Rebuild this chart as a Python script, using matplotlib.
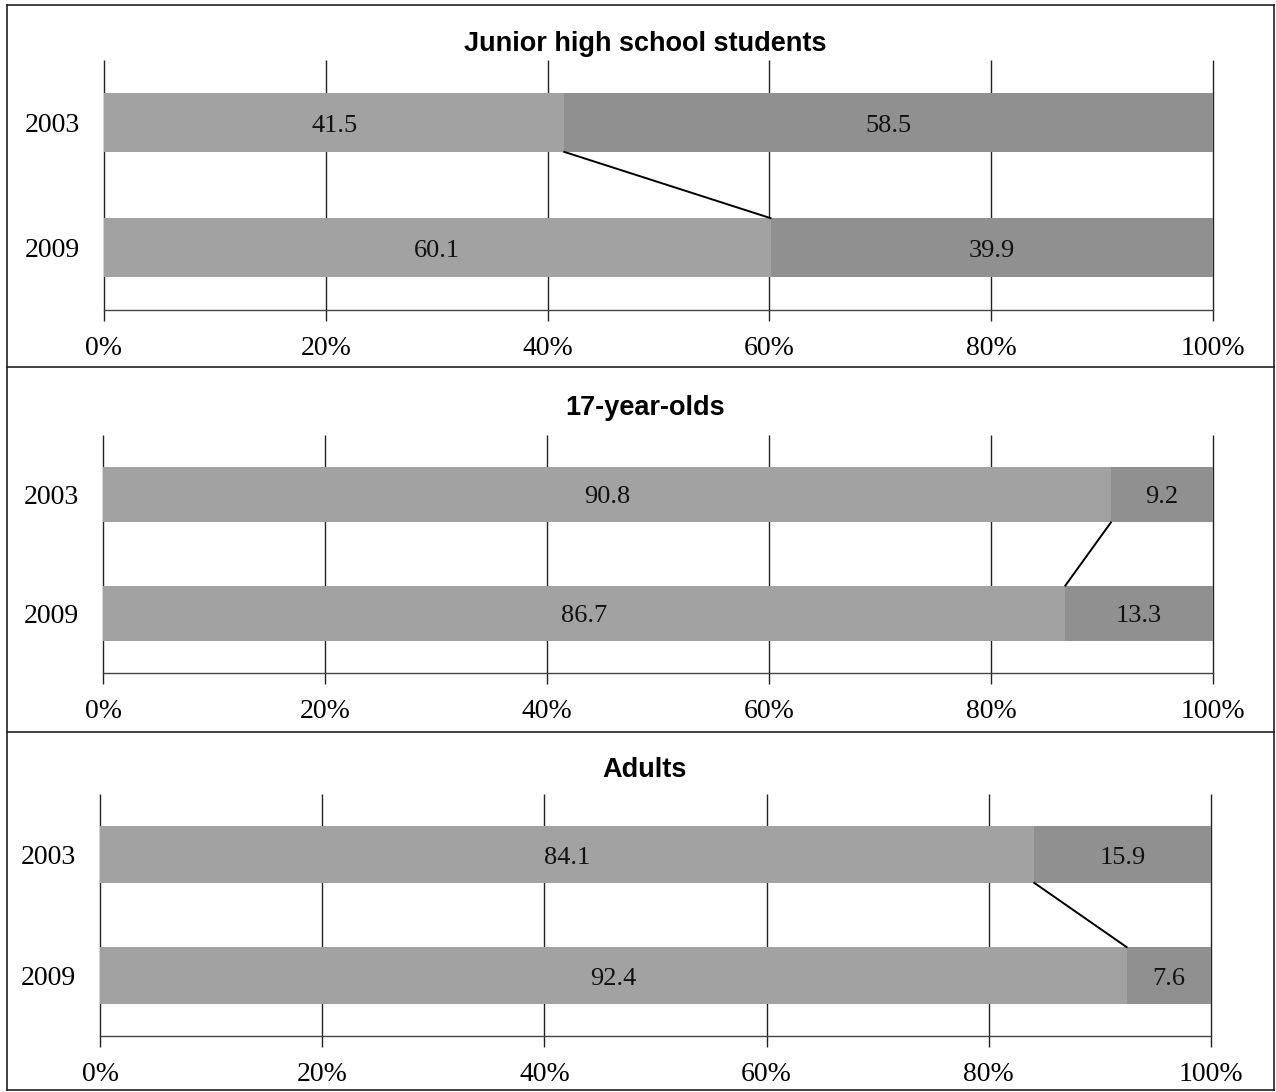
import matplotlib
matplotlib.use("Agg")
import matplotlib.pyplot as plt
from matplotlib.lines import Line2D

# Data: share (%) in each group, first and second segment of each stacked bar
groups = ["Junior high school students", "17-year-olds", "Adults"]
years = ["2003", "2009"]
first_2003 = [41.5, 90.8, 84.1]
second_2003 = [58.5, 9.2, 15.9]
first_2009 = [60.1, 86.7, 92.4]
second_2009 = [39.9, 13.3, 7.6]
tick_values = [0, 20, 40, 60, 80, 100]
tick_labels = ["0%", "20%", "40%", "60%", "80%", "100%"]

W, H = 1276, 1092
DPI = 100
fig = plt.figure(figsize=(W / DPI, H / DPI), dpi=DPI)
fig.patch.set_facecolor("white")

SERIF = ["Liberation Serif", "DejaVu Serif"]
SANS = ["Liberation Sans", "DejaVu Sans"]
LIGHT = "#a2a2a2"
DARK = "#909090"


def fx(x):
    return x / W


def fy(y):
    return 1 - y / H


# panel layout in pixels: (left, right, top, bottom of plot area, title y)
panels = [
    (104, 1213, 60, 310, 44),
    (103, 1213, 435, 673, 408),
    (100, 1211, 794, 1036, 770),
]

# outer frame and separators
frame = [((7, 1274), (5, 5)), ((7, 1274), (1090, 1090)), ((7, 7), (5, 1090)),
         ((1274, 1274), (5, 1090)), ((7, 1274), (367, 367)), ((7, 1274), (732, 732))]
for xs, ys in frame:
    fig.add_artist(Line2D([fx(xs[0]), fx(xs[1])], [fy(ys[0]), fy(ys[1])],
                          transform=fig.transFigure, color="#222222", lw=1.2))

bar_h = 0.47
for i, (l, r, t, b, ty) in enumerate(panels):
    ax = fig.add_axes([fx(l), fy(b), fx(r) - fx(l), (b - t) / H])
    ax.set_xlim(0, 100)
    ax.set_ylim(-0.5, 1.5)
    for s in ["top", "left", "right"]:
        ax.spines[s].set_visible(False)
    ax.spines["bottom"].set_color("#444444")
    ax.spines["bottom"].set_linewidth(1.0)

    # vertical grid lines continuing below the axis as tick marks
    ax.vlines(tick_values, -0.5, 1.5, colors="#222222", lw=1.0, zorder=1, clip_on=False)

    ypos = [1, 0]
    firsts = [first_2003[i], first_2009[i]]
    seconds = [second_2003[i], second_2009[i]]
    for y, f, s in zip(ypos, firsts, seconds):
        ax.barh(y, f, height=bar_h, left=0, color=LIGHT, edgecolor="none", zorder=2)
        ax.barh(y, s, height=bar_h, left=f, color=DARK, edgecolor="none", zorder=2)
        ax.text(f / 2, y - 0.025, f"{f:.1f}", ha="center", va="center",
                fontsize=19, family=SERIF, color="#111111", zorder=3)
        ax.text(f + s / 2, y - 0.025, f"{s:.1f}", ha="center", va="center",
                fontsize=19, family=SERIF, color="#111111", zorder=3)

    # connector between the segment boundaries of the two years
    ax.plot([firsts[0], firsts[1]], [1 - bar_h / 2, 0 + bar_h / 2],
            color="black", lw=1.4, zorder=3)

    ax.set_xticks(tick_values)
    ax.set_xticklabels(tick_labels, family=SERIF, fontsize=20)
    ax.tick_params(axis="x", length=8, width=1.0, color="#222222", pad=11)
    ax.set_yticks(ypos)
    ax.set_yticklabels(years, family=SERIF, fontsize=20)
    ax.tick_params(axis="y", length=0, pad=17)

    fig.text(fx(645), fy(ty), groups[i], ha="center", va="center",
             fontsize=19.5, fontweight="bold", family=SANS)

fig.savefig("out.png", dpi=DPI)
